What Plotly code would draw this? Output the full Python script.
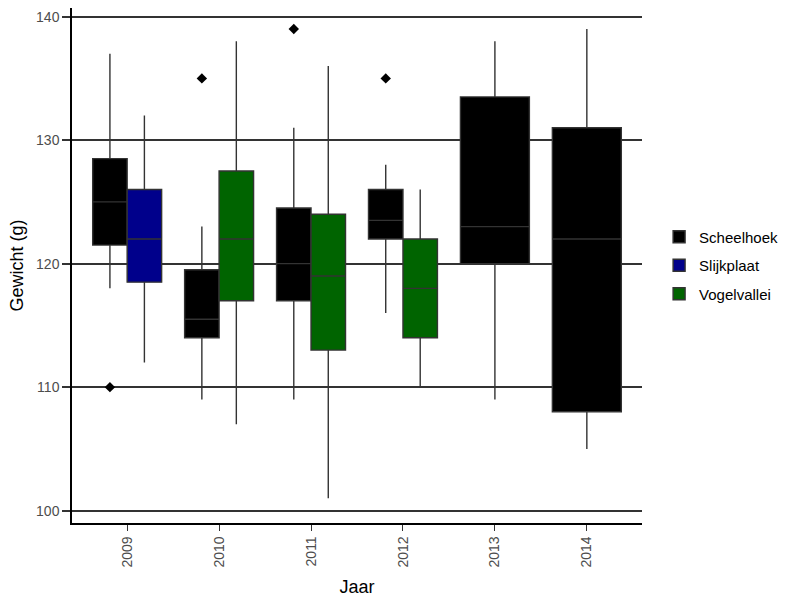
import plotly.graph_objects as go

years = ["2009", "2010", "2011", "2012", "2013", "2014"]
sites = ["Scheelhoek", "Slijkplaat", "Vogelvallei"]
colors = {"Scheelhoek": "#000000", "Slijkplaat": "#00008B", "Vogelvallei": "#006400"}

# box statistics per (year, site)
box_year = ["2009", "2009", "2010", "2010", "2011", "2011", "2012", "2012", "2013", "2014"]
box_site = ["Scheelhoek", "Slijkplaat", "Scheelhoek", "Vogelvallei", "Scheelhoek", "Vogelvallei",
            "Scheelhoek", "Vogelvallei", "Scheelhoek", "Scheelhoek"]
lower = [118, 112, 109, 107, 109, 101, 116, 110, 109, 105]
q1 = [121.5, 118.5, 114, 117, 117, 113, 122, 114, 120, 108]
median = [125, 122, 115.5, 122, 120, 119, 123.5, 118, 123, 122]
q3 = [128.5, 126, 119.5, 127.5, 124.5, 124, 126, 122, 133.5, 131]
upper = [137, 132, 123, 138, 131, 136, 128, 126, 138, 139]

# outliers
out_year = ["2009", "2010", "2011", "2012"]
out_site = ["Scheelhoek", "Scheelhoek", "Scheelhoek", "Scheelhoek"]
out_val = [110, 135, 139, 135]

total_width = 0.75

def position(year, site):
    idx = years.index(year) + 1
    groups = [s for y, s in zip(box_year, box_site) if y == year]
    n = len(groups)
    w = total_width / n
    k = groups.index(site)
    return idx - total_width / 2 + w * (k + 0.5), w

fig = go.Figure()
shown = set()
for i in range(len(box_year)):
    x, w = position(box_year[i], box_site[i])
    s = box_site[i]
    fig.add_trace(go.Box(
        x=[x], q1=[q1[i]], median=[median[i]], q3=[q3[i]],
        lowerfence=[lower[i]], upperfence=[upper[i]],
        width=w, name=s, legendgroup=s, showlegend=s not in shown,
        fillcolor=colors[s], line=dict(color="#333333", width=1.4),
        whiskerwidth=0, boxpoints=False, hoverinfo="y"))
    shown.add(s)

ox = [position(y, s)[0] for y, s in zip(out_year, out_site)]
fig.add_trace(go.Scatter(x=ox, y=out_val, mode="markers", showlegend=False,
                         marker=dict(symbol="diamond", size=8, color="black")))

font = "Liberation Sans, Arial, sans-serif"
fig.update_layout(
    width=790, height=598,
    margin=dict(l=72, r=148, t=8, b=75, autoexpand=False),
    paper_bgcolor="white", plot_bgcolor="white",
    boxmode="overlay",
    font=dict(family=font, size=14, color="#000000"),
    legend=dict(x=1.03, y=0.5, xanchor="left", yanchor="middle",
                font=dict(size=15, color="#000000"), traceorder="grouped",
                tracegroupgap=6),
    xaxis=dict(
        range=[0.4, 6.6], tickmode="array", tickvals=[1, 2, 3, 4, 5, 6], ticktext=years,
        tickangle=-90, ticks="outside", ticklen=6, tickcolor="#333333", tickwidth=1.2,
        showline=True, linecolor="#000000", linewidth=1.5, showgrid=False, zeroline=False,
        automargin=False,
        tickfont=dict(size=14, color="#4d4d4d"),
        title=dict(text="Jaar", font=dict(size=18, color="#000000"), standoff=14)),
    yaxis=dict(
        range=[99.0, 140.7], tickvals=[100, 110, 120, 130, 140],
        ticks="outside", ticklen=8, tickcolor="#333333", tickwidth=1.5,
        showline=True, linecolor="#000000", linewidth=1.5,
        showgrid=True, gridcolor="#333333", gridwidth=1.5, zeroline=False,
        automargin=False,
        tickfont=dict(size=14, color="#4d4d4d"),
        title=dict(text="Gewicht (g)", font=dict(size=18, color="#000000"), standoff=8)),
)

fig.write_html("out.html", config={"displayModeBar": False},
               post_script="document.body.style.margin='0';document.body.style.padding='0';")
